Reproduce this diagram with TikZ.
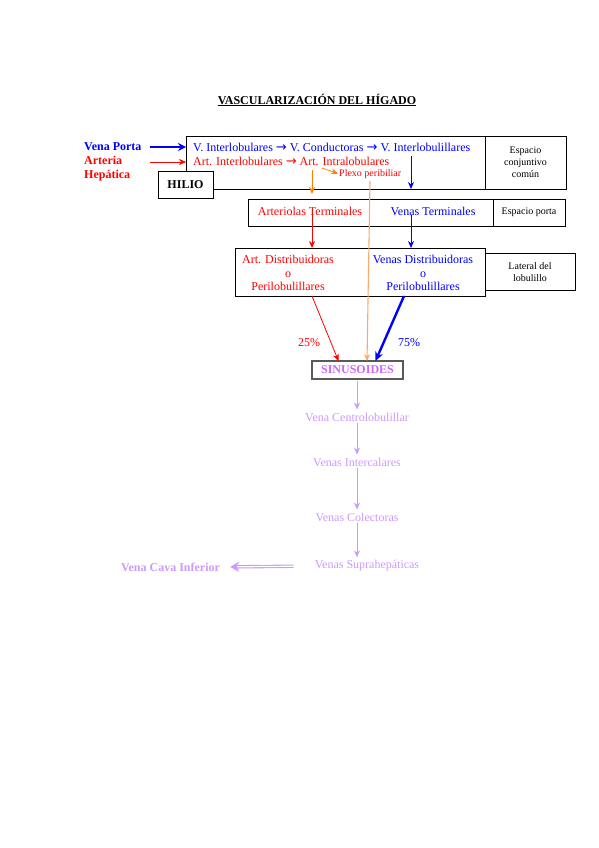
\documentclass[tikz,border=0pt]{standalone}
\usepackage{fontspec}
\setmainfont{Liberation Serif}
\newfontfamily\simbolos{DejaVu Sans}
\newcommand{\flechatxt}{{\simbolos\fontsize{13}{13.5}\selectfont →}}
\usetikzlibrary{arrows.meta, positioning}

\definecolor{venazul}{RGB}{0,0,255}
\definecolor{arteria}{RGB}{255,0,0}
\definecolor{naranja}{RGB}{255,128,0}
\definecolor{melocoton}{RGB}{250,170,110}
\definecolor{lila}{RGB}{204,153,255}
\definecolor{lilafuerte}{RGB}{204,102,255}
\definecolor{gris}{RGB}{90,90,90}

\begin{document}
\begin{tikzpicture}[x=1pt, y=-1pt]
\tikzstyle{caja} = [rectangle, draw=black, line width=0.8pt, inner sep=0pt, outer sep=0pt]
\tikzstyle{texto} = [inner sep=0pt, font=\fontsize{12}{13.5}\selectfont, align=center]
\tikzstyle{negrita} = [inner sep=0pt, font=\bfseries\fontsize{12}{13.5}\selectfont]
\tikzstyle{nota} = [font=\fontsize{10}{12}\selectfont, align=center]
\tikzstyle{flecha} = [line width=0.8pt, -{Stealth[length=7pt, width=6pt]}]
\tikzstyle{gruesa} = [line width=2.4pt, -{Stealth[length=9pt, width=8pt]}]
\tikzstyle{salida} = [lila, line width=1pt, shorten <=2pt, shorten >=3pt, -{Stealth[length=7pt, width=6pt]}]

\useasboundingbox (0,0) rectangle (599,848);

\node (titulo) [negrita] at (317,100) {\underline{VASCULARIZACIÓN DEL HÍGADO}};

% hilio
\node (canal) [caja, minimum width=299pt, minimum height=53pt] at (335.5,162.5) {};
\node (espacio) [caja, nota, minimum width=81pt, minimum height=53pt, right=0pt of canal] {Espacio\\conjuntivo\\común};
\node (hilio) [caja, fill=white, minimum width=55pt, minimum height=27pt, font=\bfseries\fontsize{12}{13.5}\selectfont] at (185.5,184.5) {HILIO};

\node (vporta) [negrita, anchor=west, text=venazul] at (84,147) {Vena Porta};
\node (arthep) [negrita, anchor=north west, text=arteria, align=left, font=\bfseries\fontsize{12}{14}\selectfont] at (84,156) {Arteria\\Hepática};

\node (venas1) [texto, anchor=west, text=venazul] at (193,147) {V. Interlobulares \flechatxt{} V. Conductoras \flechatxt{} V. Interlobulillares};
\node (arts1) [texto, anchor=west, text=arteria] at (193,161) {Art. Interlobulares \flechatxt{} Art. Intralobulares};
\node (plexo) [nota, anchor=west, inner sep=0pt, text=arteria] at (339,174) {Plexo peribiliar};

\coordinate (portaini) at (150,147);
\coordinate (arteriaini) at (150,162);
\coordinate (intra) at (312,170);
\coordinate (intrafin) at (312,194);
\coordinate (plexoini) at (322,168);
\coordinate (plexobaja) at (370,181);
\coordinate (interlob) at (411,156);
\coordinate (interlobfin) at (411,189);

\draw [gruesa, venazul, -{Stealth[length=8pt, width=8pt]}] (portaini) -- (portaini -| canal.west);
\draw [flecha, arteria, line width=0.6pt] (arteriaini) -- (arteriaini -| canal.west);
\draw [flecha, naranja] (intra) -- (intrafin);
\draw [flecha, naranja, shorten >=1pt] (plexoini) -- (plexo.west);
\draw [flecha, venazul] (interlob) -- (interlobfin);

% espacio porta
\node (porta) [caja, minimum width=245pt, minimum height=27pt] at (370.5,212.5) {};
\node (esppor) [caja, nota, minimum width=72pt, minimum height=27pt, right=0pt of porta] {Espacio porta};
\node (artter) [texto, text=arteria] at (310,211) {Arteriolas Terminales};
\node (venter) [texto, text=venazul] at (433,211) {Venas Terminales};

% lateral del lobulillo
\node (peri) [caja, minimum width=250pt, minimum height=48pt] at (360,272) {};
\node (lateral) [caja, nota, minimum width=90pt, minimum height=37pt, right=0pt of peri] {Lateral del\\lobulillo};
\node (artdist) [texto, text=arteria] at (288,273) {Art. Distribuidoras\\o\\Perilobulillares};
\node (vendist) [texto, text=venazul] at (423,273) {Venas Distribuidoras\\o\\Perilobulillares};

\draw [flecha, arteria] ([xshift=2pt]artter.south) -- ([xshift=2pt]artter.south |- peri.north);
\draw [flecha, venazul] ([xshift=-22pt]venter.south) -- ([xshift=-22pt]venter.south |- peri.north);

% sinusoides
\node (sinus) [caja, draw=gris, line width=1.3pt, minimum width=91pt, minimum height=18pt, text=lilafuerte, font=\bfseries\fontsize{12}{13.5}\selectfont] at (357.5,370) {SINUSOIDES};

\coordinate (rojoini) at (312,296);
\coordinate (azulini) at (404,296);
\draw [flecha, arteria] (rojoini) -- ([xshift=-19pt]sinus.north);
\draw [gruesa, venazul] (azulini) -- ([xshift=18pt]sinus.north);
\draw [flecha, melocoton, line width=1.1pt] (plexobaja) -- ([xshift=9.5pt]sinus.north);

\node (p25) [texto, text=arteria] at (309,343) {25\%};
\node (p75) [texto, text=venazul] at (409,343) {75\%};

% salida venosa
\node (centro) [texto, text=lila] at (357,417) {Vena Centrolobulillar};
\node (interc) [texto, text=lila] at (357,462) {Venas Intercalares};
\node (colect) [texto, text=lila] at (357,517) {Venas Colectoras};
\node (supra) [texto, text=lila] at (367,566) {Venas Suprahepáticas};
\node (cava) [negrita, text=lila] at (170.5,567) {Vena Cava Inferior};

\draw [salida] (sinus.south -| centro) -- (centro.north);
\draw [salida] (centro.south) -- (interc.north);
\draw [salida] (interc.south) -- (colect.north);
\draw [salida] (colect.south) -- (colect.south |- supra.north);
\draw [lila, line width=3.4pt, shorten <=21pt, shorten >=10pt, -{Stealth[length=9pt, width=10pt]}] (supra.west) -- (cava.east);
\draw [white, line width=1.2pt, shorten <=20pt, shorten >=17pt] (supra.west) -- (cava.east);

\end{tikzpicture}
\end{document}
